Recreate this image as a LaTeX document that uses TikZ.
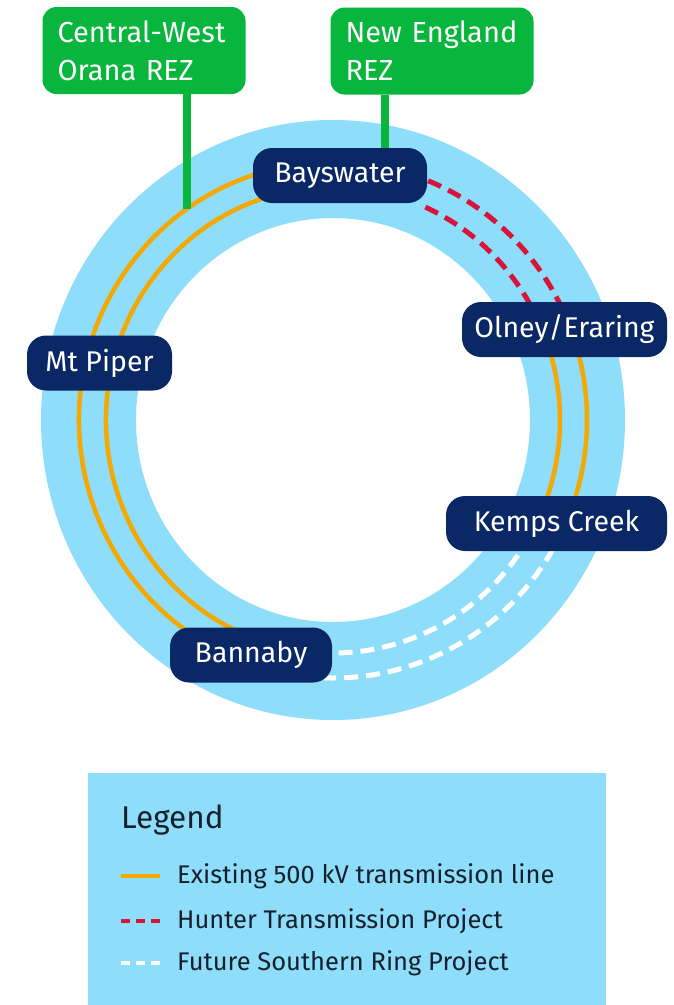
\documentclass[tikz,border=0pt]{standalone}
\usepackage{fontspec}
\setmainfont{Fira Sans}
\definecolor{ringblue}{HTML}{8EDEFB}
\definecolor{navy}{HTML}{0A2766}
\definecolor{rezgreen}{HTML}{08B63E}
\definecolor{lineorange}{HTML}{F5A800}
\definecolor{linered}{HTML}{D7153A}
\definecolor{legtext}{HTML}{16202C}
\begin{document}
\begin{tikzpicture}[x=1pt,y=-1pt,
  station/.style={fill=navy, text=white, rounded corners=19pt, minimum height=55pt, inner sep=0pt, font=\fontsize{28.5}{32}\selectfont},
  rez/.style={fill=rezgreen, text=white, rounded corners=14pt, minimum height=87pt, inner xsep=15pt, text width=173pt, align=left, font=\fontsize{29}{38}\selectfont},
  stem/.style={draw=rezgreen, line width=8pt},
  existing/.style={draw=lineorange, line width=4.5pt},
  hunter/.style={draw=linered, line width=5pt, dash pattern=on 14pt off 8pt},
  southern/.style={draw=white, line width=5pt, dash pattern=on 14pt off 8pt},
  legitem/.style={anchor=west, text=legtext, font=\fontsize{25.5}{30}\selectfont, inner sep=0pt}
]
\useasboundingbox (0,0) rectangle (673,1005);
\fill[white] (0,0) rectangle (673,1005);
\coordinate (C) at (333,420);
% ring
\fill[ringblue, even odd rule] (C) ellipse [x radius=292pt, y radius=300pt]
  (C) ellipse [x radius=197pt, y radius=202pt];
% existing lines
\draw[existing] ([shift={(100:254pt and 258pt)}]C) arc[start angle=100, end angle=250, x radius=254pt, y radius=258pt];
\draw[existing] ([shift={(100:227pt and 233pt)}]C) arc[start angle=100, end angle=250, x radius=227pt, y radius=233pt];
\draw[existing] ([shift={(20:254pt and 258pt)}]C) arc[start angle=20, end angle=-25, x radius=254pt, y radius=258pt];
\draw[existing] ([shift={(20:227pt and 233pt)}]C) arc[start angle=20, end angle=-25, x radius=227pt, y radius=233pt];
% hunter
\draw[hunter] ([shift={(68:254pt and 258pt)}]C) arc[start angle=68, end angle=22, x radius=254pt, y radius=258pt];
\draw[hunter] ([shift={(66:227pt and 233pt)}]C) arc[start angle=66, end angle=22, x radius=227pt, y radius=233pt];
% southern
\draw[southern] ([shift={(-30:254pt and 258pt)}]C) arc[start angle=-30, end angle=-92, x radius=254pt, y radius=258pt];
\draw[southern] ([shift={(-30:227pt and 233pt)}]C) arc[start angle=-30, end angle=-92, x radius=227pt, y radius=233pt];
% REZ boxes
\node[rez] (cw) at (144,50.5) {Central-West\\Orana REZ};
\node[rez] (ne) at (432,51) {New England\\REZ};
% stations
\node[station, minimum width=174pt] (bays) at (340,175.5) {Bayswater};
\node[station, minimum width=205pt] (olney) at (564.5,329.5) {Olney/Eraring};
\node[station, minimum width=145pt] (piper) at (99.5,363) {Mt Piper};
\node[station, minimum width=221pt] (kemps) at (556.5,523.5) {Kemps Creek};
\node[station, minimum width=162pt] (bann) at (251,655) {Bannaby};
% stems
\coordinate (cwend) at ([shift={(125:254pt and 258pt)}]C);
\coordinate (nes) at (385,100);
\draw[stem] (cwend |- cw.south) -- (cwend);
\draw[stem] (nes |- ne.south) -- (nes |- bays.north);
% legend
\fill[ringblue] (88,773) rectangle (606,1005);
\node[anchor=base west, text=legtext, font=\fontsize{31.5}{36}\selectfont, inner sep=0pt] (legtitle) at (121,828) {Legend};
\coordinate (l1a) at (121,876); \coordinate (l1b) at (160,876);
\coordinate (l2a) at (121,921); \coordinate (l2b) at (160,921);
\coordinate (l3a) at (121,963); \coordinate (l3b) at (160,963);
\draw[draw=lineorange, line width=3.5pt] (l1a) -- (l1b);
\draw[draw=linered, line width=3.5pt, dash pattern=on 9pt off 6pt] (l2a) -- (l2b);
\draw[draw=white, line width=3.5pt, dash pattern=on 9pt off 6pt] (l3a) -- (l3b);
\node[legitem] (t1) at (177,876) {Existing 500 kV transmission line};
\node[legitem] (t2) at (177,921) {Hunter Transmission Project};
\node[legitem] (t3) at (177,963) {Future Southern Ring Project};
\end{tikzpicture}
\end{document}
